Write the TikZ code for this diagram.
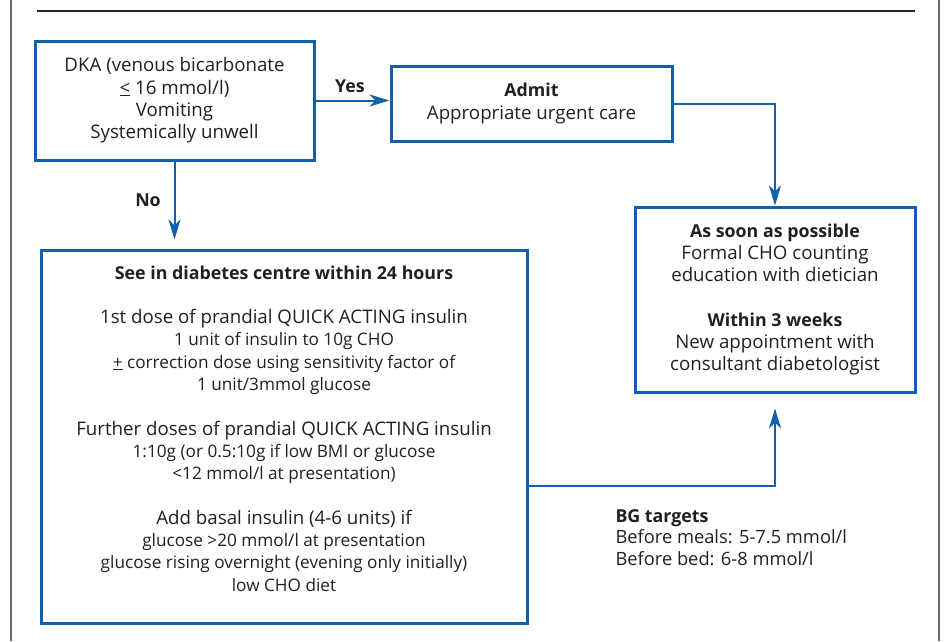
\documentclass[tikz,border=0pt]{standalone}
\usepackage{fontspec}
\setmainfont{Open Sans}
\usetikzlibrary{arrows.meta}

\definecolor{diablue}{RGB}{16,96,170}
\definecolor{diatext}{RGB}{35,31,32}
\definecolor{diagray}{RGB}{105,105,105}

\newcommand{\boldline}[1]{{\fontsize{17.8}{22.3}\selectfont\bfseries #1}}
\newcommand{\smallline}[1]{{\fontsize{17.2}{22.3}\selectfont #1}}

\begin{document}
\begin{tikzpicture}[x=1pt,y=-1pt,font=\fontsize{18.7}{22.3}\selectfont,text=diatext]
  \useasboundingbox (0,0) rectangle (946,641);

  % frame
  \draw[diagray,line width=2pt] (11,0) -- (11,641);
  \draw[diagray,line width=1.5pt] (939,0) -- (939,641);
  \draw[black!85,line width=2.5pt] (37,11) -- (915,11);

  \begin{scope}[every node/.style={draw=diablue,line width=3pt,align=center,inner sep=0pt}]
    \node[minimum width=279pt,minimum height=119pt] (dka) at (174.5,100.5)
      {DKA (venous bicarbonate\\\underline{<} 16 mmol/l)\\Vomiting\\Systemically unwell};
    \node[minimum width=281pt,minimum height=75pt] (admit) at (531.5,103.5)
      {\boldline{Admit}\\Appropriate urgent care};
    \node[minimum width=280pt,minimum height=185pt] (soon) at (775,299.5)
      {\boldline{As soon as possible}\\Formal CHO counting\\education with dietician\\[22.3pt]
       \boldline{Within 3 weeks}\\New appointment with\\consultant diabetologist};
    \node[minimum width=486pt,minimum height=373pt] (centre) at (284,436.5) {};
  \end{scope}

  \node[align=center] (centretext) at ([yshift=8pt]centre.center)
    {\boldline{See in diabetes centre within 24 hours}\\[22.3pt]
     1st dose of prandial QUICK ACTING insulin\\
     \smallline{1 unit of insulin to 10g CHO}\\
     \smallline{\underline{+} correction dose using sensitivity factor of}\\
     \smallline{1 unit/3mmol glucose}\\[22.3pt]
     Further doses of prandial QUICK ACTING insulin\\
     \smallline{1:10g (or 0.5:10g if low BMI or glucose}\\
     \smallline{<12 mmol/l at presentation)}\\[22.3pt]
     Add basal insulin (4-6 units) if\\
     \smallline{glucose >20 mmol/l at presentation}\\
     \smallline{glucose rising overnight (evening only initially)}\\
     \smallline{low CHO diet}};

  \begin{scope}[every node/.style={font=\fontsize{17.8}{22.3}\selectfont\bfseries}]
    \node (yes) at (350,86) {Yes};
    \node (no) at (148,200) {No};
  \end{scope}

  \node[anchor=north west,align=left,font=\fontsize{18.3}{21.5}\selectfont] (bg) at (612,506)
    {\boldline{BG targets}\\Before meals: 5-7.5 mmol/l\\Before bed: 6-8 mmol/l};

  \begin{scope}[diablue,line width=2pt,-{Stealth[length=20pt,width=12pt,inset=6pt]}]
    \draw (dka.east) -- (dka.east -| admit.west);
    \draw (admit.east) -| (soon.north);
    \draw[shorten >=9pt] (dka.south) -- (dka.south |- centre.north);
    \draw[shorten >=15pt] ([yshift=-49.5pt]centre.east) -| (soon.south);
  \end{scope}

\end{tikzpicture}
\end{document}
